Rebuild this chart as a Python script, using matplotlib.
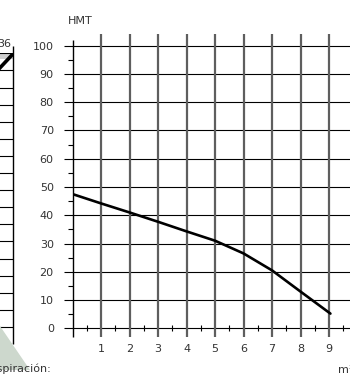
import matplotlib
matplotlib.use("Agg")
import matplotlib.pyplot as plt
from matplotlib.patches import Polygon, Rectangle
from matplotlib.ticker import FixedLocator

# curve data (caudal m3/h vs HMT m)
flow = [0, 1, 2, 3, 4, 5, 6, 7, 8, 9.05]
head = [47.5, 44.2, 41.0, 37.7, 34.3, 31.0, 26.5, 20.5, 13.0, 5.2]

x_major = [1, 2, 3, 4, 5, 6, 7, 8, 9]
x_labels = ["1", "2", "3", "4", "5", "6", "7", "8", "9"]
y_major = [0, 10, 20, 30, 40, 50, 60, 70, 80, 90, 100]
y_labels = [str(v) for v in y_major]

# neighbouring chart fragment on the left edge
left_rows = list(range(18))
left_header = "36"

W, H = 350, 376
TXT = "#333333"
FONT = "DejaVu Sans"


def fx(px):
    return px / W


def fy(py):
    return 1 - py / H


fig = plt.figure(figsize=(W / 100, H / 100), dpi=100)

# main chart
ax = fig.add_axes([fx(72.5), fy(328.3), fx(W - 72.5), (328.3 - 45.7) / H])
xmax = (W - 72.5) / 28.5
ax.set_xlim(0, xmax)
ax.set_ylim(0, 100)
for s in ax.spines.values():
    s.set_visible(False)

ax.hlines(y_major, -0.3, xmax, color="black", lw=0.8, clip_on=False)
ax.vlines(x_major, -3, 104, color="#5e5e5e", lw=1.6, clip_on=False)
ax.vlines(0, -3, 102, color="black", lw=1.0, clip_on=False)

ax.plot(flow, head, color="black", lw=1.9, solid_capstyle="round")

ax.set_xticks(x_major)
ax.set_xticklabels(x_labels)
ax.set_yticks(y_major)
ax.set_yticklabels(y_labels)
ax.xaxis.set_minor_locator(FixedLocator([i + 0.5 for i in range(10)]))
ax.yaxis.set_minor_locator(FixedLocator([v + 5 for v in y_major[:-1]]))
ax.tick_params(axis="x", which="major", length=0, pad=11, labelsize=8, labelcolor=TXT)
ax.tick_params(axis="y", which="major", length=0, pad=13.5, labelsize=8, labelcolor=TXT)
ax.tick_params(axis="x", which="minor", direction="inout", length=4.5, width=0.8)
ax.tick_params(axis="y", which="minor", direction="out", length=3.5, width=0.8)
for lab in ax.get_xticklabels() + ax.get_yticklabels():
    lab.set_family(FONT)

fig.text(fx(68), fy(20.5), "HMT", ha="left", va="center", fontsize=8, color=TXT, family=FONT)
fig.text(fx(338), fy(370), "m³/h", ha="left", va="center", fontsize=8, color=TXT, family=FONT)

# left fragment
axl = fig.add_axes([fx(-40), fy(344), fx(53.3), (344 - 53.3) / H])
axl.set_xlim(0, 1)
axl.set_ylim(0, 17)
axl.axis("off")
axl.add_patch(Rectangle((0, 16.65), 1, 0.35, color="#cfcfcf", lw=0))
axl.hlines(left_rows, 0, 1, color="black", lw=0.8)
axl.vlines(1, 0, 17.45, color="black", lw=1.0, clip_on=False)
axl.plot([0.75, 0.99], [16.15, 16.95], color="black", lw=2.6)
fig.text(fx(11), fy(44), left_header, ha="right", va="center", fontsize=8, color=TXT, family=FONT)

fig.patches.append(Polygon([(fx(0), fy(326)), (fx(30), fy(370)), (fx(0), fy(370))],
                           closed=True, transform=fig.transFigure, color="#cdd8cd", lw=0, zorder=0))
fig.text(fx(52), fy(369), "Aspiración:", ha="right", va="center", fontsize=8, color=TXT, family=FONT)

fig.savefig("out.png", dpi=100)
